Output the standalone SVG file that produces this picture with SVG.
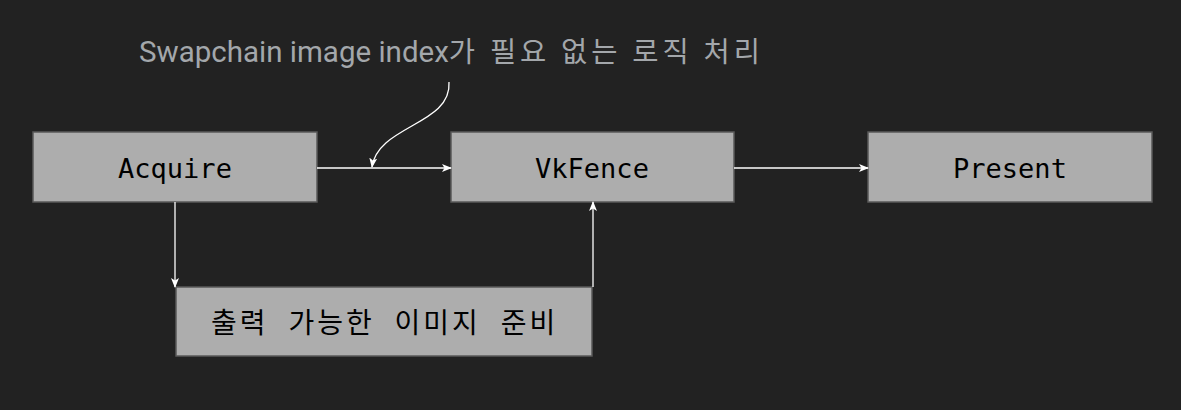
<svg xmlns="http://www.w3.org/2000/svg" width="1181" height="410" viewBox="0 0 1181 410">
<style>
.box{fill:#adadad;stroke:#5a5a5a;stroke-width:1.5}
.lbl{font-family:"DejaVu Sans Mono","Noto Sans CJK KR",monospace;font-size:27px;fill:#000;text-anchor:middle}
.ko{font-family:"DejaVu Sans Mono","Noto Sans CJK KR",monospace;font-size:28px;fill:#000;letter-spacing:3px}
.conn{stroke:#fff;stroke-width:1.3;fill:none}
.note{font-family:Roboto,"Liberation Sans","Noto Sans CJK KR",sans-serif;font-size:29.5px;fill:#a3a7ab}
.noteko{font-size:28.5px;letter-spacing:3.9px}
</style>
<defs>
<marker id="ah" markerWidth="10" markerHeight="8" refX="9" refY="4" orient="auto" markerUnits="userSpaceOnUse">
<path d="M0,0 L10,4 L0,8 L2.5,4 Z" fill="#fff"/>
</marker>
</defs>
<rect width="1181" height="410" fill="#222"/>
<text class="note" x="139" y="62">Swapchain image index<tspan class="noteko">가 필요 없는 로직 처리</tspan></text>
<g id="acquire"><rect class="box" x="33" y="132" width="284" height="70"/><text class="lbl" x="175" y="178">Acquire</text></g>
<g id="vkfence"><rect class="box" x="451" y="132" width="283" height="70"/><text class="lbl" x="592" y="178">VkFence</text></g>
<g id="present"><rect class="box" x="868" y="132" width="284" height="70"/><text class="lbl" x="1010" y="178">Present</text></g>
<g id="prepare"><rect class="box" x="176" y="287" width="416" height="69"/><text class="ko" x="211" y="333">출력 가능한 이미지 준비</text></g>
<g id="connectors">
<path class="conn" d="M317,168 H451" marker-end="url(#ah)"/>
<path class="conn" d="M734,168 H868" marker-end="url(#ah)"/>
<path class="conn" d="M175,202 V287" marker-end="url(#ah)"/>
<path class="conn" d="M593,287 V202" marker-end="url(#ah)"/>
<path class="conn" d="M449,82 C452,125 378,125 372,167" marker-end="url(#ah)"/>
</g>
</svg>
